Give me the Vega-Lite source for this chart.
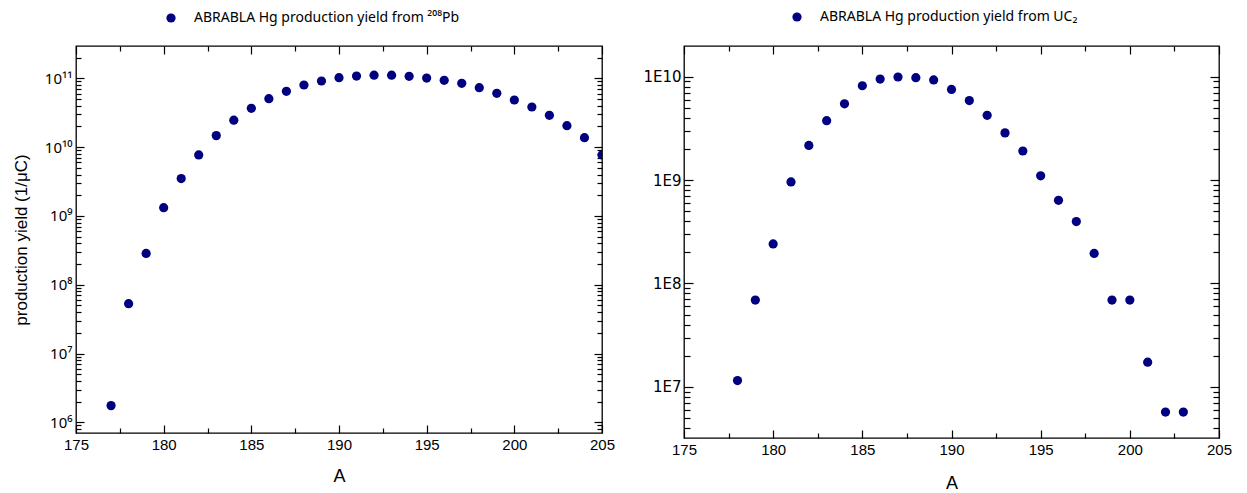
{
  "$schema": "https://vega.github.io/schema/vega-lite/v6.json",
  "padding": {"left": 11, "top": 9, "right": 4, "bottom": 5},
  "background": "white",
  "config": {
    "view": {"stroke": "black", "strokeWidth": 1.3},
    "font": "Liberation Sans",
    "axis": {"domain": false, "grid": false, "tickColor": "black", "tickWidth": 1.2, "labelColor": "black", "labelFont": "Liberation Sans", "labelFontSize": 15, "titleFont": "Liberation Sans", "titleFontWeight": "normal", "titleColor": "black", "labelOverlap": false, "labelFlush": false},
    "legend": {"labelFont": "Noto Sans", "labelFontSize": 14, "labelColor": "black", "symbolType": "circle", "symbolSize": 85, "symbolStrokeWidth": 0, "labelLimit": 0}
  },
  "datasets": {
    "pb": [
      {"A": 177, "Y": 1.75e6, "series": "ABRABLA Hg production yield from ²⁰⁸Pb"},
      {"A": 178, "Y": 5.3e7, "series": "ABRABLA Hg production yield from ²⁰⁸Pb"},
      {"A": 179, "Y": 2.85e8, "series": "ABRABLA Hg production yield from ²⁰⁸Pb"},
      {"A": 180, "Y": 1.32e9, "series": "ABRABLA Hg production yield from ²⁰⁸Pb"},
      {"A": 181, "Y": 3.49e9, "series": "ABRABLA Hg production yield from ²⁰⁸Pb"},
      {"A": 182, "Y": 7.7e9, "series": "ABRABLA Hg production yield from ²⁰⁸Pb"},
      {"A": 183, "Y": 1.47e10, "series": "ABRABLA Hg production yield from ²⁰⁸Pb"},
      {"A": 184, "Y": 2.46e10, "series": "ABRABLA Hg production yield from ²⁰⁸Pb"},
      {"A": 185, "Y": 3.67e10, "series": "ABRABLA Hg production yield from ²⁰⁸Pb"},
      {"A": 186, "Y": 5.06e10, "series": "ABRABLA Hg production yield from ²⁰⁸Pb"},
      {"A": 187, "Y": 6.48e10, "series": "ABRABLA Hg production yield from ²⁰⁸Pb"},
      {"A": 188, "Y": 8.0e10, "series": "ABRABLA Hg production yield from ²⁰⁸Pb"},
      {"A": 189, "Y": 9.14e10, "series": "ABRABLA Hg production yield from ²⁰⁸Pb"},
      {"A": 190, "Y": 1.02e11, "series": "ABRABLA Hg production yield from ²⁰⁸Pb"},
      {"A": 191, "Y": 1.08e11, "series": "ABRABLA Hg production yield from ²⁰⁸Pb"},
      {"A": 192, "Y": 1.11e11, "series": "ABRABLA Hg production yield from ²⁰⁸Pb"},
      {"A": 193, "Y": 1.11e11, "series": "ABRABLA Hg production yield from ²⁰⁸Pb"},
      {"A": 194, "Y": 1.07e11, "series": "ABRABLA Hg production yield from ²⁰⁸Pb"},
      {"A": 195, "Y": 1.01e11, "series": "ABRABLA Hg production yield from ²⁰⁸Pb"},
      {"A": 196, "Y": 9.35e10, "series": "ABRABLA Hg production yield from ²⁰⁸Pb"},
      {"A": 197, "Y": 8.46e10, "series": "ABRABLA Hg production yield from ²⁰⁸Pb"},
      {"A": 198, "Y": 7.31e10, "series": "ABRABLA Hg production yield from ²⁰⁸Pb"},
      {"A": 199, "Y": 6.06e10, "series": "ABRABLA Hg production yield from ²⁰⁸Pb"},
      {"A": 200, "Y": 4.84e10, "series": "ABRABLA Hg production yield from ²⁰⁸Pb"},
      {"A": 201, "Y": 3.83e10, "series": "ABRABLA Hg production yield from ²⁰⁸Pb"},
      {"A": 202, "Y": 2.9e10, "series": "ABRABLA Hg production yield from ²⁰⁸Pb"},
      {"A": 203, "Y": 2.05e10, "series": "ABRABLA Hg production yield from ²⁰⁸Pb"},
      {"A": 204, "Y": 1.37e10, "series": "ABRABLA Hg production yield from ²⁰⁸Pb"},
      {"A": 205, "Y": 7.7e9, "series": "ABRABLA Hg production yield from ²⁰⁸Pb"}
    ],
    "uc": [
      {"A": 178, "Y": 1.15e7, "series": "ABRABLA Hg production yield from UC₂"},
      {"A": 179, "Y": 6.9e7, "series": "ABRABLA Hg production yield from UC₂"},
      {"A": 180, "Y": 2.41e8, "series": "ABRABLA Hg production yield from UC₂"},
      {"A": 181, "Y": 9.6e8, "series": "ABRABLA Hg production yield from UC₂"},
      {"A": 182, "Y": 2.16e9, "series": "ABRABLA Hg production yield from UC₂"},
      {"A": 183, "Y": 3.75e9, "series": "ABRABLA Hg production yield from UC₂"},
      {"A": 184, "Y": 5.46e9, "series": "ABRABLA Hg production yield from UC₂"},
      {"A": 185, "Y": 8.17e9, "series": "ABRABLA Hg production yield from UC₂"},
      {"A": 186, "Y": 9.49e9, "series": "ABRABLA Hg production yield from UC₂"},
      {"A": 187, "Y": 9.93e9, "series": "ABRABLA Hg production yield from UC₂"},
      {"A": 188, "Y": 9.78e9, "series": "ABRABLA Hg production yield from UC₂"},
      {"A": 189, "Y": 9.29e9, "series": "ABRABLA Hg production yield from UC₂"},
      {"A": 190, "Y": 7.53e9, "series": "ABRABLA Hg production yield from UC₂"},
      {"A": 191, "Y": 5.87e9, "series": "ABRABLA Hg production yield from UC₂"},
      {"A": 192, "Y": 4.23e9, "series": "ABRABLA Hg production yield from UC₂"},
      {"A": 193, "Y": 2.86e9, "series": "ABRABLA Hg production yield from UC₂"},
      {"A": 194, "Y": 1.91e9, "series": "ABRABLA Hg production yield from UC₂"},
      {"A": 195, "Y": 1.1e9, "series": "ABRABLA Hg production yield from UC₂"},
      {"A": 196, "Y": 6.37e8, "series": "ABRABLA Hg production yield from UC₂"},
      {"A": 197, "Y": 3.97e8, "series": "ABRABLA Hg production yield from UC₂"},
      {"A": 198, "Y": 1.95e8, "series": "ABRABLA Hg production yield from UC₂"},
      {"A": 199, "Y": 6.9e7, "series": "ABRABLA Hg production yield from UC₂"},
      {"A": 200, "Y": 6.9e7, "series": "ABRABLA Hg production yield from UC₂"},
      {"A": 201, "Y": 1.73e7, "series": "ABRABLA Hg production yield from UC₂"},
      {"A": 202, "Y": 5.7e6, "series": "ABRABLA Hg production yield from UC₂"},
      {"A": 203, "Y": 5.7e6, "series": "ABRABLA Hg production yield from UC₂"}
    ]
  },
  "resolve": {"scale": {"color": "independent"}, "legend": {"color": "independent"}},
  "spacing": 26,
  "hconcat": [
    {
      "width": 526,
      "height": 387,
      "data": {"name": "pb"},
      "resolve": {"axis": {"x": "independent", "y": "independent"}},
      "layer": [
        {
          "mark": {"type": "circle", "size": 85, "opacity": 1, "clip": true},
          "encoding": {
            "x": {"field": "A", "type": "quantitative", "scale": {"domain": [175, 205], "nice": false, "zero": false},
              "axis": {"orient": "bottom", "title": "A", "titleFontSize": 18, "titlePadding": 12,
                "values": [175, 177.5, 180, 182.5, 185, 187.5, 190, 192.5, 195, 197.5, 200, 202.5, 205],
                "labelExpr": "datum.value % 5 === 0 ? datum.label : ''",
                "tickSize": {"condition": {"test": "datum.value % 5 === 0", "value": -8}, "value": -5},
                "labelPadding": 12}},
            "y": {"field": "Y", "type": "quantitative", "scale": {"type": "log", "domain": [7e5, 2.95e11], "nice": false},
              "axis": {"orient": "left", "title": "production yield (1/μC)", "titleFontSize": 17, "titlePadding": 14,
                "labelFont": "Noto Sans", "labelFontSize": 15,
                "values": [8e5, 9e5, 1e6, 2e6, 3e6, 4e6, 5e6, 6e6, 7e6, 8e6, 9e6, 1e7, 2e7, 3e7, 4e7, 5e7, 6e7, 7e7, 8e7, 9e7, 1e8, 2e8, 3e8, 4e8, 5e8, 6e8, 7e8, 8e8, 9e8, 1e9, 2e9, 3e9, 4e9, 5e9, 6e9, 7e9, 8e9, 9e9, 1e10, 2e10, 3e10, 4e10, 5e10, 6e10, 7e10, 8e10, 9e10, 1e11, 2e11],
                "labelExpr": "abs(log(datum.value)/LN10 - round(log(datum.value)/LN10)) < 0.01 ? '10' + ['⁰','¹','²','³','⁴','⁵','⁶','⁷','⁸','⁹','¹⁰','¹¹'][round(log(datum.value)/LN10)] : ''",
                "tickSize": {"condition": {"test": "abs(log(datum.value)/LN10 - round(log(datum.value)/LN10)) < 0.01", "value": -8}, "value": -5},
                "labelPadding": 12}},
            "color": {"field": "series", "type": "nominal", "scale": {"range": ["#000080"]},
              "legend": {"title": null, "orient": "none", "legendX": 88, "legendY": -35, "labelOffset": 16}}
          }
        },
        {
          "mark": {"type": "circle", "opacity": 0},
          "encoding": {
            "x": {"field": "A", "type": "quantitative", "scale": {"domain": [175, 205], "nice": false, "zero": false},
              "axis": {"orient": "top", "title": null, "labels": false,
                "values": [175, 177.5, 180, 182.5, 185, 187.5, 190, 192.5, 195, 197.5, 200, 202.5, 205],
                "tickSize": {"condition": {"test": "datum.value % 5 === 0", "value": -8}, "value": -5}}},
            "y": {"field": "Y", "type": "quantitative", "scale": {"type": "log", "domain": [7e5, 2.95e11], "nice": false},
              "axis": {"orient": "right", "title": null, "labels": false,
                "values": [8e5, 9e5, 1e6, 2e6, 3e6, 4e6, 5e6, 6e6, 7e6, 8e6, 9e6, 1e7, 2e7, 3e7, 4e7, 5e7, 6e7, 7e7, 8e7, 9e7, 1e8, 2e8, 3e8, 4e8, 5e8, 6e8, 7e8, 8e8, 9e8, 1e9, 2e9, 3e9, 4e9, 5e9, 6e9, 7e9, 8e9, 9e9, 1e10, 2e10, 3e10, 4e10, 5e10, 6e10, 7e10, 8e10, 9e10, 1e11, 2e11],
                "tickSize": {"condition": {"test": "abs(log(datum.value)/LN10 - round(log(datum.value)/LN10)) < 0.01", "value": -8}, "value": -5}}}
          }
        }
      ]
    },
    {
      "width": 535,
      "height": 392,
      "data": {"name": "uc"},
      "resolve": {"axis": {"x": "independent", "y": "independent"}},
      "layer": [
        {
          "mark": {"type": "circle", "size": 85, "opacity": 1, "clip": true},
          "encoding": {
            "x": {"field": "A", "type": "quantitative", "scale": {"domain": [175, 205], "nice": false, "zero": false},
              "axis": {"orient": "bottom", "title": "A", "titleFontSize": 18, "titlePadding": 14,
                "values": [175, 177.5, 180, 182.5, 185, 187.5, 190, 192.5, 195, 197.5, 200, 202.5, 205],
                "labelExpr": "datum.value % 5 === 0 ? datum.label : ''",
                "tickSize": {"condition": {"test": "datum.value % 5 === 0", "value": -8}, "value": -5},
                "labelPadding": 12}},
            "y": {"field": "Y", "type": "quantitative", "scale": {"type": "log", "domain": [3.2e6, 1.98e10], "nice": false},
              "axis": {"orient": "left", "title": null, "labelFont": "DejaVu Sans", "labelFontSize": 15,
                "values": [4e6, 5e6, 6e6, 7e6, 8e6, 9e6, 1e7, 2e7, 3e7, 4e7, 5e7, 6e7, 7e7, 8e7, 9e7, 1e8, 2e8, 3e8, 4e8, 5e8, 6e8, 7e8, 8e8, 9e8, 1e9, 2e9, 3e9, 4e9, 5e9, 6e9, 7e9, 8e9, 9e9, 1e10],
                "labelExpr": "abs(log(datum.value)/LN10 - round(log(datum.value)/LN10)) < 0.01 ? '1E' + round(log(datum.value)/LN10) : ''",
                "tickSize": {"condition": {"test": "abs(log(datum.value)/LN10 - round(log(datum.value)/LN10)) < 0.01", "value": -9}, "value": -6},
                "labelPadding": 12}},
            "color": {"field": "series", "type": "nominal", "scale": {"range": ["#000080"]},
              "legend": {"title": null, "orient": "none", "legendX": 106, "legendY": -36, "labelOffset": 16}}
          }
        },
        {
          "mark": {"type": "circle", "opacity": 0},
          "encoding": {
            "x": {"field": "A", "type": "quantitative", "scale": {"domain": [175, 205], "nice": false, "zero": false},
              "axis": {"orient": "top", "title": null, "labels": false,
                "values": [175, 177.5, 180, 182.5, 185, 187.5, 190, 192.5, 195, 197.5, 200, 202.5, 205],
                "tickSize": {"condition": {"test": "datum.value % 5 === 0", "value": -8}, "value": -5}}},
            "y": {"field": "Y", "type": "quantitative", "scale": {"type": "log", "domain": [3.2e6, 1.98e10], "nice": false},
              "axis": {"orient": "right", "title": null, "labels": false,
                "values": [4e6, 5e6, 6e6, 7e6, 8e6, 9e6, 1e7, 2e7, 3e7, 4e7, 5e7, 6e7, 7e7, 8e7, 9e7, 1e8, 2e8, 3e8, 4e8, 5e8, 6e8, 7e8, 8e8, 9e8, 1e9, 2e9, 3e9, 4e9, 5e9, 6e9, 7e9, 8e9, 9e9, 1e10],
                "tickSize": {"condition": {"test": "abs(log(datum.value)/LN10 - round(log(datum.value)/LN10)) < 0.01", "value": -9}, "value": -6}}}
          }
        }
      ]
    }
  ]
}
